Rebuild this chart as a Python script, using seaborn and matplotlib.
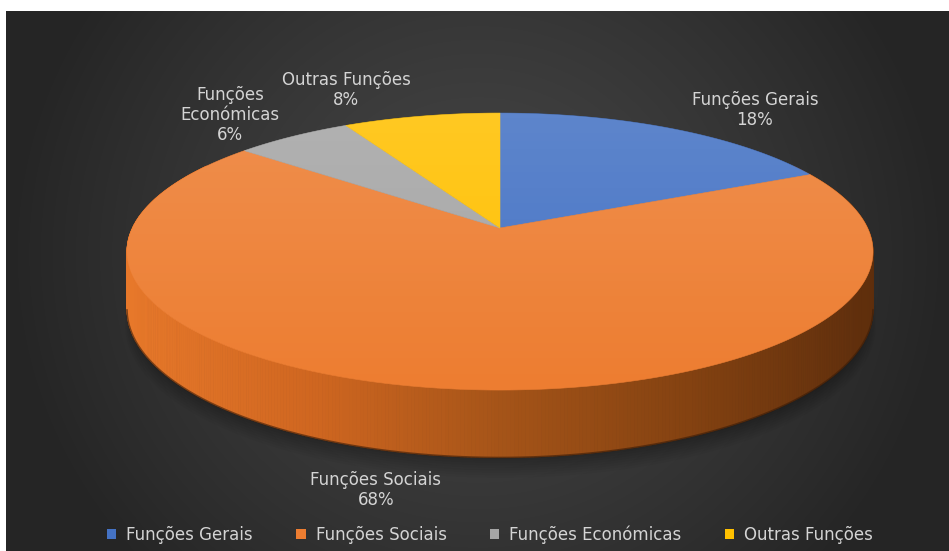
import numpy as np
import matplotlib
matplotlib.use("Agg")
import matplotlib.pyplot as plt
import seaborn as sns
from matplotlib.patches import Polygon, Rectangle
from matplotlib.colors import LinearSegmentedColormap

# ---- data -------------------------------------------------------------
categories = ["Funções Gerais", "Funções Sociais", "Funções Económicas", "Outras Funções"]
shares = [18, 68, 6, 8]
slice_labels = ["Funções Gerais", "Funções Sociais", "Funções\nEconómicas", "Outras Funções"]
slice_colors = ["#4472C4", "#ED7D31", "#A5A5A5", "#FFC000"]

# ---- style ------------------------------------------------------------
sns.set_theme(style="dark")
plt.rcParams["font.family"] = ["DejaVu Sans"]
TEXT_COLOR = "#D4D4D4"
FONT_SIZE = 12

W, H = 949, 551
fig = plt.figure(figsize=(W / 100, H / 100), dpi=100, facecolor="white")

# dark panel with a soft radial glow
PANEL_X, PANEL_Y = 6, 11
pw, ph = W - PANEL_X, H - PANEL_Y
bg = fig.add_axes([PANEL_X / W, 0, pw / W, ph / H])
bg.axis("off")
yy, xx = np.mgrid[0:ph, 0:pw]
dx = (xx - pw * 0.50) / (pw * 0.5)
dy = (yy - ph * 0.45) / (ph * 0.5)
r = np.clip(np.sqrt(dx ** 2 + 0.35 * dy ** 2), 0, 1)
inner, outer = 0x45 / 255, 0x25 / 255
lum = inner + (outer - inner) * r ** 1.3
bg.imshow(np.dstack([lum, lum, lum]), aspect="auto", interpolation="bilinear")

ax = fig.add_axes([0, 0, 1, 1])
ax.set_xlim(0, W)
ax.set_ylim(H, 0)
ax.axis("off")
ax.set_facecolor("none")

# ---- perspective pie geometry ------------------------------------------
CX, CY = 500, 228          # apex of the slices
A, B, P = 367.6, 134.5, 0.17
DEPTH = 56


def project(theta_deg, drop=0.0, grow=1.0):
    t = np.radians(theta_deg)
    x = np.sin(t)
    d = -np.cos(t)
    w = 1 - P * d
    return CX + grow * A * x / w, CY + (grow * B * d + drop) / w


total = float(sum(shares))
bounds = np.concatenate([[0], np.cumsum(shares)]) / total * 360.0

# soft shadow beneath the front of the pie
for k in range(10):
    th = np.linspace(100, 260, 160)
    sx, sy = project(th, drop=DEPTH + 2 + k * 1.5, grow=0.97 + k * 0.004)
    ax.fill_between(sx, sy - 30, sy, color="black", alpha=0.03, lw=0, zorder=1)

# side wall, shaded from left (lit) to right (shadowed)
side_cmap = LinearSegmentedColormap.from_list(
    "side", ["#E7782A", "#CF6620", "#A55418", "#844211", "#5E2E0C"])
for a0, a1, col in zip(bounds[:-1], bounds[1:], slice_colors):
    lo, hi = max(a0, 60.0), min(a1, 300.0)
    if hi <= lo:
        continue
    th = np.linspace(lo, hi, int((hi - lo) * 2) + 2)
    for t0, t1 in zip(th[:-1], th[1:]):
        x0, y0 = project(t0)
        x1, y1 = project(t1)
        x2, y2 = project(t1, DEPTH)
        x3, y3 = project(t0, DEPTH)
        frac = np.clip(((x0 + x1) / 2 - 128) / (875 - 128), 0, 1)
        c = side_cmap(frac)
        ax.add_patch(Polygon([[x0, y0], [x1, y1], [x2, y2], [x3, y3]], closed=True,
                             facecolor=c, edgecolor=c, lw=0.6, zorder=2))

# dark rim along the base of the wall
th = np.linspace(100, 260, 200)
bx, by = project(th, DEPTH)
ax.plot(bx, by, color="#3A1C08", lw=1.2, alpha=0.6, zorder=3)

# top face slices
for a0, a1, col in zip(bounds[:-1], bounds[1:], slice_colors):
    th = np.linspace(a0, a1, max(int(a1 - a0) * 2, 4))
    px, py = project(th)
    verts = np.column_stack([np.r_[CX, px], np.r_[CY, py]])
    ax.add_patch(Polygon(verts, closed=True, facecolor=col, edgecolor=col,
                         lw=0.4, zorder=4))

# light sheen on the top face, fading towards the front
th = np.linspace(0, 360, 361)
ex, ey = project(th)
grad = np.linspace(0.14, 0.0, 256)[:, None] * np.ones((1, 4))
sheen = np.zeros((256, 4, 4))
sheen[..., :3] = 1.0
sheen[..., 3] = grad
im = ax.imshow(sheen, extent=[ex.min(), ex.max(), ey.max(), ey.min()],
               aspect="auto", interpolation="bilinear", zorder=5)
clip = Polygon(np.column_stack([ex, ey]), closed=True, transform=ax.transData)
im.set_clip_path(clip)

# ---- data labels ---------------------------------------------------------
label_pos = [(755, 110), (376, 490), (230, 115), (346, 90)]
for lab, val, (lx, ly) in zip(slice_labels, shares, label_pos):
    ax.text(lx, ly, f"{lab}\n{val}%", ha="center", va="center", color=TEXT_COLOR,
            fontsize=FONT_SIZE, linespacing=1.15, zorder=6)

# ---- legend -----------------------------------------------------------------
handles = [Rectangle((0, 0), 1, 1, facecolor=c, edgecolor="none") for c in slice_colors]
leg = fig.legend(handles, categories, loc="center", ncol=4,
                 bbox_to_anchor=(490 / W, 1 - 535 / H), frameon=False,
                 fontsize=FONT_SIZE, labelcolor=TEXT_COLOR, handlelength=0.55,
                 handleheight=0.55, handletextpad=0.6, columnspacing=2.6)

fig.savefig("out.png", dpi=100, facecolor="white")
